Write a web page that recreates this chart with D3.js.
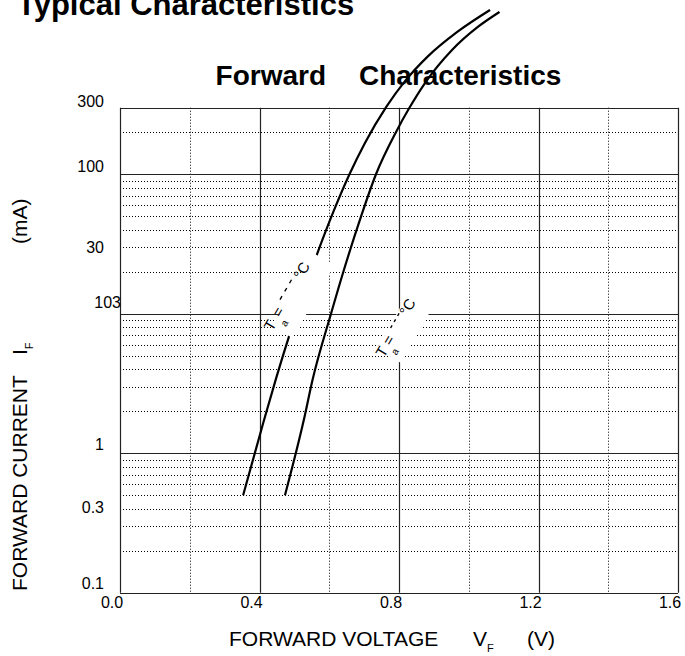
<!DOCTYPE html>
<html>
<head>
<meta charset="utf-8">
<script src="https://cdnjs.cloudflare.com/ajax/libs/d3/7.8.5/d3.min.js"></script>
<style>
  body { margin: 0; background: #fff; }
  svg { display: block; font-family: "Liberation Sans", Arial, sans-serif; }
</style>
</head>
<body>
<div id="chart"></div>
<script>
// curve points, forward voltage (V) / forward current (mA)
const vfLeft = [0.353, 0.413, 0.448, 0.486, 0.561, 0.614, 0.658, 0.702, 0.764, 0.816, 0.882, 0.968, 1.061];
const ifLeft = [0.50, 1.73, 3.47, 7.05, 25.1, 55.5, 100, 167, 305, 461, 697, 1052, 1506];
const vfRight = [0.473, 0.527, 0.552, 0.605, 0.642, 0.691, 0.734, 0.792, 0.829, 0.874, 0.952, 1.027, 1.088];
const ifRight = [0.50, 1.73, 3.35, 10, 20.6, 49.7, 100, 202, 297, 449, 778, 1143, 1457];

// axis ticks
const xTickValues = [0, 0.4, 0.8, 1.2, 1.6];
const xTickLabels = ["0.0", "0.4", "0.8", "1.2", "1.6"];
const xMinorValues = [0.2, 0.6, 1.0, 1.4];
const yTickValues = [300, 100, 30, 10, 1, 0.3, 0.1];
const yTickLabels = ["300", "100", "30", "103", "1", "0.3", "0.1"];
const yMajorValues = [100, 10, 1];
const decades = [0.1, 1, 10, 100];

// label placement tweaks (px above the grid line)
const yLabelNudge = {"300": -6, "100": -8, "30": 0, "103": -11, "1": -9, "0.3": -19, "0.1": -10};

const width = 685;
const height = 656;

const x = d3.scaleLinear().domain([0, 1.6]).range([120, 678]);
const y = d3.scaleLog().domain([0.1, 300]).range([592.8, 107.7]);

const svg = d3.select("#chart")
  .append("svg")
  .attr("width", width)
  .attr("height", height);

// titles
svg.append("text")
  .attr("x", 17)
  .attr("y", 15)
  .attr("font-size", 31)
  .attr("font-weight", "bold")
  .text("Typical Characteristics");

svg.append("text")
  .attr("x", 326)
  .attr("y", 85)
  .attr("text-anchor", "end")
  .attr("font-size", 28)
  .attr("font-weight", "bold")
  .text("Forward");
svg.append("text")
  .attr("x", 359)
  .attr("y", 85)
  .attr("font-size", 28)
  .attr("font-weight", "bold")
  .text("Characteristics");

// minor grid (dotted)
var minorY = [];
decades.forEach(function (d) {
  for (var k = 2; k <= 9; k++) {
    if (k * d < 300) minorY.push(k * d);
  }
});

var grid = svg.append("g");

grid.selectAll(".hminor")
  .data(minorY)
  .enter()
  .append("line")
  .attr("x1", x(0))
  .attr("x2", x(1.6))
  .attr("y1", d => Math.round(y(d)) + 0.5)
  .attr("y2", d => Math.round(y(d)) + 0.5)
  .attr("stroke", "#000")
  .attr("stroke-dasharray", "1,2");

grid.selectAll(".vminor")
  .data(xMinorValues)
  .enter()
  .append("line")
  .attr("x1", d => Math.round(x(d)) + 0.5)
  .attr("x2", d => Math.round(x(d)) + 0.5)
  .attr("y1", y(300))
  .attr("y2", y(0.1))
  .attr("stroke", "#000")
  .attr("stroke-dasharray", "1,2");

// major grid (solid)
grid.selectAll(".hmajor")
  .data(yMajorValues.concat([300, 0.1]))
  .enter()
  .append("line")
  .attr("x1", x(0))
  .attr("x2", x(1.6))
  .attr("y1", d => Math.round(y(d)) + 0.5)
  .attr("y2", d => Math.round(y(d)) + 0.5)
  .attr("stroke", "#222")
  .attr("stroke-width", 1.2);

grid.selectAll(".vmajor")
  .data(xTickValues)
  .enter()
  .append("line")
  .attr("x1", d => Math.round(x(d)) + 0.5)
  .attr("x2", d => Math.round(x(d)) + 0.5)
  .attr("y1", y(300))
  .attr("y2", y(0.1))
  .attr("stroke", "#222")
  .attr("stroke-width", 1.2);

// tick labels
svg.selectAll(".xlab")
  .data(xTickValues)
  .enter()
  .append("text")
  .attr("x", d => x(d) - 8)
  .attr("y", 608)
  .attr("text-anchor", "middle")
  .attr("font-size", 16)
  .text((d, i) => xTickLabels[i]);

svg.selectAll(".ylab")
  .data(yTickValues)
  .enter()
  .append("text")
  .attr("x", (d, i) => yTickLabels[i] == "103" ? 121 : 104)
  .attr("y", (d, i) => y(d) + yLabelNudge[yTickLabels[i]] + 5.7)
  .attr("text-anchor", "end")
  .attr("font-size", 16)
  .text((d, i) => yTickLabels[i]);

// axis titles
var xt = svg.append("text")
  .attr("x", 229)
  .attr("y", 646)
  .attr("font-size", 21);
xt.append("tspan").text("FORWARD VOLTAGE");
xt.append("tspan").attr("x", 473).text("V");
xt.append("tspan").attr("dy", 6).attr("font-size", 11).text("F");
xt.append("tspan").attr("x", 527).attr("dy", -6).text("(V)");

var yt = svg.append("text")
  .attr("transform", "translate(27,591) rotate(-90)")
  .attr("font-size", 21);
yt.append("tspan").attr("x", 0).text("FORWARD CURRENT");
yt.append("tspan").attr("x", 236).text("I");
yt.append("tspan").attr("dy", 6).attr("font-size", 11).text("F");
yt.append("tspan").attr("x", 347).attr("dy", -6).text("(mA)");

// curves
const line = d3.line()
  .x(d => x(d[0]))
  .y(d => y(d[1]))
  .curve(d3.curveMonotoneX);

const curves = [d3.zip(vfLeft, ifLeft), d3.zip(vfRight, ifRight)];

svg.selectAll(".curve")
  .data(curves)
  .enter()
  .append("path")
  .attr("fill", "none")
  .attr("stroke", "#000")
  .attr("stroke-width", 2.2)
  .attr("d", line);

// "Ta = ...°C" labels, rotated along the curves, on a white patch
var tempLabel = function (v, i, o) {
  var g = svg.append("g")
    .attr("transform", "translate(" + x(v) + "," + y(i) + ") rotate(-60)")
    .attr("font-size", 15);
  g.append("rect")
    .attr("x", o.box[0])
    .attr("y", o.box[1])
    .attr("width", o.box[2])
    .attr("height", o.box[3])
    .attr("fill", "#fff");
  g.append("text").attr("x", -4.6).attr("y", 5.4).text("T");
  g.append("text").attr("x", o.sub).attr("y", 15).attr("font-size", 10).text("a");
  g.append("text").attr("x", o.eq).attr("y", 5.4).text("=");
  g.append("line")
    .attr("x1", o.dash[0])
    .attr("x2", o.dash[1])
    .attr("y1", -4)
    .attr("y2", -4)
    .attr("stroke", "#000")
    .attr("stroke-width", 1.4)
    .attr("stroke-dasharray", o.dashes);
  g.append("text").attr("x", o.deg).attr("y", 5.4).text("°C");
};

tempLabel(0.430, 8.3, {box: [0, 3, 84, 23], sub: 6, eq: 11, dash: [27, 50], dashes: "4,5.5", deg: 54.6});
tempLabel(0.750, 5.35, {box: [0, -6, 60, 28], sub: 4, eq: 9, dash: [25, 42], dashes: "3,4", deg: 43.2});
</script>
</body>
</html>
